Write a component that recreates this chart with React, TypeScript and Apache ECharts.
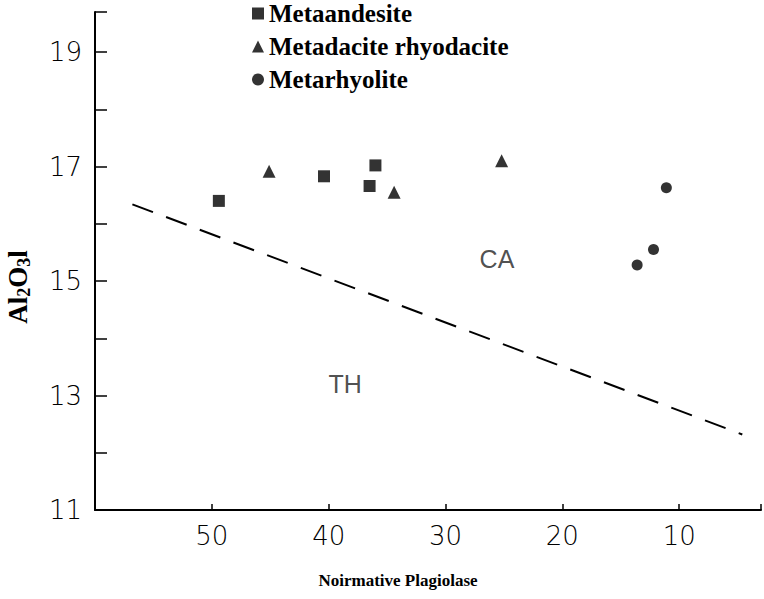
import React, { useEffect, useRef } from "react";
import * as echarts from "echarts";

const metaandesite: [number, number][] = [
  [49.4, 16.4],
  [40.4, 16.83],
  [36.0, 17.02],
  [36.5, 16.66],
];
const metadacite: [number, number][] = [
  [45.1, 16.92],
  [34.4, 16.55],
  [25.2, 17.1],
];
const metarhyolite: [number, number][] = [
  [11.1, 16.63],
  [12.2, 15.55],
  [13.6, 15.28],
];
const divideLine: [number, number][] = [
  [56.8, 16.34],
  [4.6, 12.32],
];
const fieldLabels: { name: string; value: [number, number] }[] = [
  { name: "CA", value: [25.6, 15.38] },
  { name: "TH", value: [38.6, 13.2] },
];
const xTickLabels = [10, 20, 30, 40, 50];
const yTickLabels = [11, 13, 15, 17, 19];

export default function App() {
  const ref = useRef<HTMLDivElement>(null);
  useEffect(() => {
    if (!ref.current) return;
    const chart = echarts.init(ref.current, undefined, { renderer: "svg" });
    const serif = "'Liberation Serif', 'DejaVu Serif', serif";
    const sans = "'DejaVu Sans', 'Liberation Sans', sans-serif";
    chart.setOption({
      animation: false,
      backgroundColor: "#ffffff",
      grid: { left: 95, top: 12, right: 0, bottom: 89 },
      legend: {
        orient: "vertical",
        left: 247,
        top: -4,
        itemGap: 8,
        itemWidth: 12,
        itemHeight: 12,
        textStyle: { fontFamily: serif, fontWeight: "bold", fontSize: 25, color: "#000" },
        data: [
          { name: "Metaandesite", icon: "rect" },
          { name: "Metadacite rhyodacite", icon: "triangle" },
          { name: "Metarhyolite", icon: "circle" },
        ],
      },
      graphic: [
        {
          type: "text",
          x: 18,
          y: 287,
          rotation: Math.PI / 2,
          style: {
            text: "Al{s|2}O{s|3}l",
            fontFamily: serif,
            fontWeight: "bold",
            fontSize: 27,
            fill: "#000",
            align: "center",
            verticalAlign: "middle",
            rich: {
              s: { fontFamily: serif, fontWeight: "bold", fontSize: 18, fill: "#000", padding: [11, 0, 0, 0] },
            },
          },
        },
        {
          type: "text",
          x: 398,
          y: 580,
          style: {
            text: "Noirmative Plagiolase",
            fontFamily: serif,
            fontWeight: "bold",
            fontSize: 17,
            fill: "#000",
            align: "center",
            verticalAlign: "middle",
          },
        },
      ],
      xAxis: {
        type: "value",
        inverse: true,
        min: 3,
        max: 60,
        splitNumber: 6,
        axisLine: { onZero: false, lineStyle: { color: "#000", width: 2 } },
        axisTick: { inside: true, length: 6, lineStyle: { color: "#000", width: 1.5 } },
        splitLine: { show: false },
        axisLabel: {
          margin: 13,
          fontFamily: sans,
          fontWeight: 300,
          fontSize: 26,
          color: "#000",
          formatter: (v: number) => (xTickLabels.includes(v) ? String(v) : ""),
        },
      },
      yAxis: {
        type: "value",
        min: 11,
        max: 19.7,
        interval: 1,
        axisLine: { onZero: false, lineStyle: { color: "#000", width: 2 } },
        axisTick: { inside: true, length: 12, lineStyle: { color: "#000", width: 1.5 } },
        splitLine: { show: false },
        axisLabel: {
          margin: 13,
          fontFamily: sans,
          fontWeight: 300,
          fontSize: 26,
          color: "#000",
          formatter: (v: number) => (yTickLabels.includes(v) ? String(v) : ""),
        },
      },
      series: [
        {
          name: "Metaandesite",
          type: "scatter",
          symbol: "rect",
          symbolSize: 12,
          itemStyle: { color: "#000" },
          data: metaandesite,
        },
        {
          name: "Metadacite rhyodacite",
          type: "scatter",
          symbol: "triangle",
          symbolSize: 13,
          itemStyle: { color: "#000" },
          data: metadacite,
        },
        {
          name: "Metarhyolite",
          type: "scatter",
          symbol: "circle",
          symbolSize: 11,
          itemStyle: { color: "#000" },
          data: metarhyolite,
        },
        {
          name: "divide",
          type: "line",
          symbol: "none",
          itemStyle: { color: "#000" },
          lineStyle: { color: "#000", width: 2, type: [22, 14] },
          data: divideLine,
          z: 1,
        },
        {
          name: "fields",
          type: "scatter",
          symbolSize: 0,
          silent: true,
          itemStyle: { color: "#000" },
          label: {
            show: true,
            position: "inside",
            formatter: (p: any) => p.name,
            fontFamily: "'Liberation Sans', sans-serif",
            fontWeight: "normal",
            fontSize: 25,
            color: "#222",
            textBorderWidth: 0,
          },
          data: fieldLabels,
        },
      ],
    });
    return () => chart.dispose();
  }, []);
  return (
    <div
      ref={ref}
      style={{ position: "absolute", left: 0, top: 0, width: 764, height: 599, background: "#fff" }}
    />
  );
}
